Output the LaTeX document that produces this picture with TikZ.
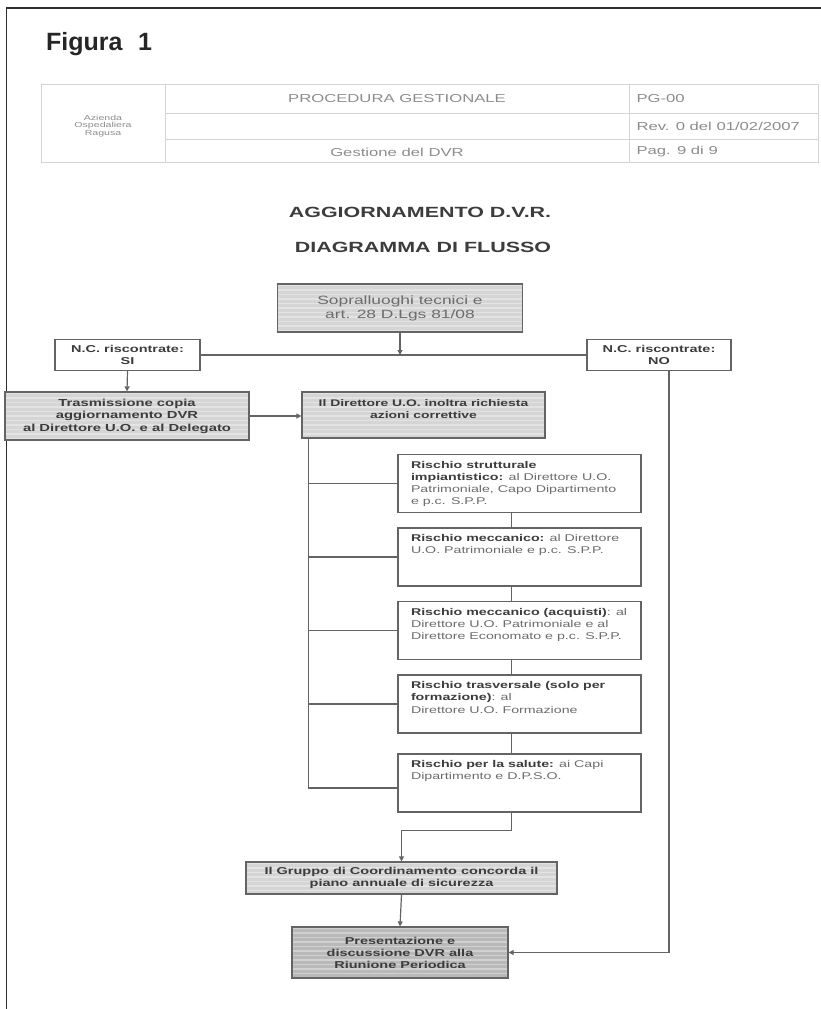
\documentclass[tikz,border=0pt]{standalone}
\usepackage{fontspec}
\setmainfont{Liberation Sans}
\newfontfamily\scanfont{Liberation Sans}[FakeStretch=1.45]
\usepackage{tikz}
\definecolor{dvrFrame}{HTML}{2E2E2E}
\definecolor{dvrLine}{HTML}{646464}
\definecolor{dvrTable}{HTML}{D4D4D4}
\definecolor{dvrTableText}{HTML}{8C8C8C}
\definecolor{dvrText}{HTML}{3C3C3C}
\definecolor{dvrSoft}{HTML}{6C6C6C}
\definecolor{dvrFill}{HTML}{D5D5D5}
\definecolor{dvrFillDark}{HTML}{B9B9B9}
\usetikzlibrary{arrows.meta}
\newcommand{\bt}[1]{{\bfseries\color{dvrText}#1}}
\newcommand{\riskbody}[1]{\parbox[c][58pt][t]{217pt}{\raggedright\rule{0pt}{13.5pt}#1}}

\begin{document}
\begin{tikzpicture}[x=1pt,y=-1pt, every node/.style={font=\scanfont, text=dvrText},
  box/.style={draw=dvrLine, line width=1.2pt, inner sep=0pt},
  graybox/.style={box, fill=dvrFill, path picture={
      \foreach \k in {0,...,16}
        \draw[white, opacity=0.35, line width=1.6pt]
          ([yshift={-\k*4.5pt-1.5pt}]path picture bounding box.north west) --
          ([yshift={-\k*4.5pt-1.5pt}]path picture bounding box.north east);}},
  whitebox/.style={box, fill=white, align=center, font=\scanfont\bfseries\fontsize{10}{12}\selectfont},
  riskbox/.style={box, fill=white, inner xsep=13pt, text=dvrSoft, font=\scanfont\fontsize{9.8}{12.3}\selectfont},
  tabletext/.style={text=dvrTableText, font=\scanfont\fontsize{11.5}{13}\selectfont},
  link/.style={draw=dvrLine, line width=1.2pt},
  arrow/.style={link, -{Triangle[length=5pt,width=5pt]}}]
  \useasboundingbox (0,0) rectangle (821,1009);
  \draw[dvrFrame, line width=1.7pt] (6.5,1009) -- (6.5,7.7) -- (821,7.7);
  \node[anchor=base west, inner sep=0pt, text=black!85, font=\rmfamily\bfseries\fontsize{25}{28}\selectfont] (figura) at (46,50) {Figura\hspace{0.62em}1};

  % intestazione della procedura
  \draw[dvrTable, line width=1pt] (41,84) rectangle (818,162);
  \draw[dvrTable, line width=1pt] (165,84) -- (165,162) (629,84) -- (629,162) (165,113) -- (818,113) (165,139) -- (818,139);
  \node[tabletext, align=center, font=\scanfont\fontsize{7.3}{7.2}\selectfont] (ente) at (103,126) {Azienda\\Ospedaliera\\Ragusa};
  \node[tabletext] (proc) at (397,99) {PROCEDURA GESTIONALE};
  \node[tabletext] (gest) at (397,152) {Gestione del DVR};
  \node[tabletext, anchor=west] (codice) at (633,99) {PG-00};
  \node[tabletext, anchor=west] (rev) at (633,126) {Rev. 0 del 01/02/2007};
  \node[tabletext, anchor=west] (pag) at (633,152) {Pag. 9 di 9};

  \node[font=\scanfont\bfseries\fontsize{14.8}{16}\selectfont] (titolo) at (420,212) {AGGIORNAMENTO D.V.R.};
  \node[font=\scanfont\bfseries\fontsize{14.8}{16}\selectfont] (sottotitolo) at (423,247) {DIAGRAMMA DI FLUSSO};

  % diagramma
  \node[graybox, minimum width=245pt, minimum height=48pt, align=center, text=dvrSoft, font=\scanfont\fontsize{12}{14}\selectfont] (sopra) at (400,308) {Sopralluoghi tecnici e\\art. 28 D.Lgs 81/08};
  \node[whitebox, minimum width=145pt, minimum height=31pt] (si) at (127.5,355) {N.C. riscontrate:\\SI};
  \node[whitebox, minimum width=144pt, minimum height=31pt] (no) at (659,355) {N.C. riscontrate:\\NO};
  \node[graybox, minimum width=244pt, minimum height=48pt, align=center, font=\scanfont\bfseries\fontsize{10.2}{12.5}\selectfont] (trasm) at (127,416) {Trasmissione copia\\aggiornamento DVR\\al Direttore U.O. e al Delegato};
  \node[graybox, font=\scanfont\bfseries\fontsize{9.6}{12}\selectfont] (dir) at (423.5,415) {\parbox[c][46pt][t]{243pt}{\centering\rule{0pt}{14.5pt}Il Direttore U.O. inoltra richiesta\\azioni correttive}};
  \foreach \nome/\yy/\testo in {
      strut/483.5/{\bt{Rischio strutturale}\\\bt{impiantistico:} al Direttore U.O.\\Patrimoniale, Capo Dipartimento\\e p.c. S.P.P.},
      mecc/557/{\bt{Rischio meccanico:} al Direttore\\U.O. Patrimoniale e p.c. S.P.P.},
      acq/630.5/{\bt{Rischio meccanico (acquisti)}: al\\Direttore U.O. Patrimoniale e al\\Direttore Economato e p.c. S.P.P.},
      trasv/704/{\bt{Rischio trasversale (solo per}\\\bt{formazione)}: al\\Direttore U.O. Formazione},
      salute/783/{\bt{Rischio per la salute:} ai Capi\\Dipartimento e D.P.S.O.}} {
    \node[riskbox] (\nome) at (519.5,\yy) {\riskbody{\testo}};
  }
  \node[graybox, minimum width=311pt, minimum height=32pt, align=center, font=\scanfont\bfseries\fontsize{10}{12}\selectfont] (gruppo) at (401.5,878) {Il Gruppo di Coordinamento concorda il\\piano annuale di sicurezza};
  \node[graybox, fill=dvrFillDark, minimum width=216pt, minimum height=51pt, align=center, font=\scanfont\bfseries\fontsize{10}{12}\selectfont] (pres) at (400,952.5) {Presentazione e\\discussione DVR alla\\Riunione Periodica};

  \coordinate (spine) at ([xshift=7pt]dir.south west);
  \draw[arrow] (sopra.south) -- (sopra.south |- si.east);
  \draw[link] (si.east) -- (no.west);
  \draw[arrow] (si.south) -- (trasm.north);
  \draw[arrow] (trasm.east) -- (trasm.east -| dir.west);
  \draw[link] (spine) |- ([yshift=-5pt]salute.west);
  \foreach \rk in {strut,mecc,acq,trasv}
    \draw[link] (spine |- \rk.west) -- (\rk.west);
  \foreach \rk/\nx in {strut/mecc,mecc/acq,acq/trasv,trasv/salute}
    \draw[link] ([xshift=-8pt]\rk.south) -- ([xshift=-8pt]\nx.north);
  \draw[arrow] ([xshift=-8pt]salute.south) -- ++(0,18) -| (gruppo.north);
  \draw[arrow] (gruppo.south) -- (pres.north);
  \draw[arrow] ([xshift=10pt]no.south) |- (pres.east);
\end{tikzpicture}
\end{document}
